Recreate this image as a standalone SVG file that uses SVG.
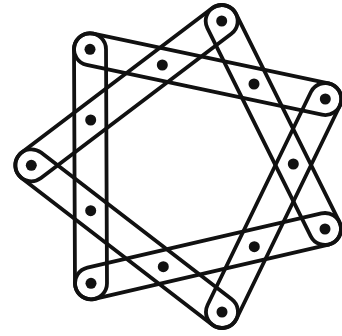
<svg xmlns="http://www.w3.org/2000/svg" width="342" height="336" viewBox="0 0 342 336">
  <style>
    .band { fill: none; stroke: #111; stroke-width: 3.8; }
    .dot { fill: #111; }
  </style>
  <rect width="342" height="336" fill="#fff"/>
  <g id="connectors">
    <rect id="band-1" class="band" x="-133" y="-16" width="266" height="32" rx="16" transform="translate(90.5 166.3) rotate(89.76)"/>
    <rect id="band-2" class="band" x="-136.25" y="-16" width="272.5" height="32" rx="16" transform="translate(207.65 74.15) rotate(11.93)"/>
    <rect id="band-3" class="band" x="-135.45" y="-16" width="270.9" height="32" rx="16" transform="translate(126.5 93.15) rotate(-37.16)"/>
    <rect id="band-4" class="band" x="-132.1" y="-16" width="264.2" height="32" rx="16" transform="translate(273.35 125) rotate(63.59)"/>
    <rect id="band-5" class="band" x="-134.35" y="-16" width="268.7" height="32" rx="16" transform="translate(273.65 205.5) rotate(-64.12)"/>
    <rect id="band-6" class="band" x="-136.1" y="-16" width="272.2" height="32" rx="16" transform="translate(208 256.15) rotate(-13.06)"/>
    <rect id="band-7" class="band" x="-136.3" y="-16" width="272.6" height="32" rx="16" transform="translate(126.65 238.65) rotate(37.57)"/>
  </g>
  <g id="v1"><circle class="dot" cx="221.7" cy="21" r="5.5"/></g>
  <g id="v2"><circle class="dot" cx="325.3" cy="99" r="5.5"/></g>
  <g id="v3"><circle class="dot" cx="325" cy="229" r="5.5"/></g>
  <g id="v4"><circle class="dot" cx="222" cy="312" r="5.5"/></g>
  <g id="v5"><circle class="dot" cx="91" cy="283.3" r="5.5"/></g>
  <g id="v6"><circle class="dot" cx="31.3" cy="165.3" r="5.5"/></g>
  <g id="v7"><circle class="dot" cx="90" cy="49.3" r="5.5"/></g>
  <g id="m1"><circle class="dot" cx="162.3" cy="65" r="5.5"/></g>
  <g id="m2"><circle class="dot" cx="254" cy="84" r="5.5"/></g>
  <g id="m3"><circle class="dot" cx="293.3" cy="164" r="5.5"/></g>
  <g id="m4"><circle class="dot" cx="254.3" cy="246.7" r="5.5"/></g>
  <g id="m5"><circle class="dot" cx="163.3" cy="266.7" r="5.5"/></g>
  <g id="m6"><circle class="dot" cx="90.7" cy="210.7" r="5.5"/></g>
  <g id="m7"><circle class="dot" cx="90.7" cy="120" r="5.5"/></g>
</svg>
